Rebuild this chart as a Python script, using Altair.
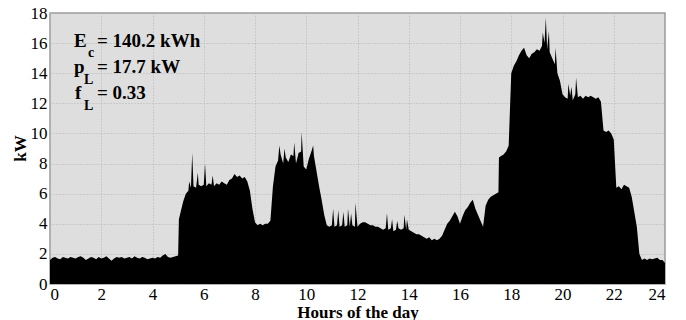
import altair as alt
import pandas as pd

# Load profile sampled every 0.1 h from 0 to 24 h (kW)
base_kw = [
    1.6, 1.75, 1.8, 1.7, 1.65, 1.8, 1.75, 1.7, 1.8, 1.75,
    1.7, 1.8, 1.85, 1.75, 1.6, 1.7, 1.8, 1.75, 1.65, 1.8,
    1.7, 1.75, 1.85, 1.7, 1.55, 1.7, 1.8, 1.75, 1.8, 1.7,
    1.75, 1.8, 1.7, 1.85, 1.75, 1.7, 1.8, 1.75, 1.65, 1.7,
    1.75, 1.7, 1.8, 1.75, 1.9, 2.0, 1.8, 1.75, 1.8, 1.85,
    1.9, 4.8, 5.5, 6.0, 6.2, 6.4, 6.5, 6.4, 6.6, 6.5,
    6.6, 6.5, 6.7, 6.6, 6.5, 6.7, 6.6, 6.8, 6.7, 6.6,
    6.9, 7.0, 7.3, 7.1, 7.2, 7.0, 7.1, 6.8, 6.2, 5.0,
    4.1, 3.9, 4.0, 3.9, 4.0, 4.0, 4.2, 6.5, 7.8, 8.2,
    8.6, 8.0, 8.4, 8.1, 8.6, 8.5, 8.0, 8.7, 8.8, 7.8,
    7.6, 8.3, 8.8, 8.5, 7.5, 6.5, 5.6, 4.6, 3.9, 3.8,
    3.9, 3.8, 3.9, 3.8, 3.9, 3.8, 3.9, 3.8, 3.9, 3.8,
    3.8, 4.0, 4.1, 4.1, 4.0, 3.9, 3.9, 3.8, 3.8, 3.7,
    3.6, 3.7, 3.6, 3.7, 3.5, 3.6, 3.7, 3.6, 3.7, 3.6,
    3.6, 3.5, 3.4, 3.3, 3.3, 3.2, 3.1, 3.0, 3.1, 2.9,
    3.0, 2.9, 3.0, 3.2, 3.6, 4.0, 4.2, 4.5, 4.8, 4.5,
    4.0, 4.5, 4.9, 5.1, 5.4, 5.6, 5.0, 4.6, 4.2, 3.8,
    5.2, 5.6, 5.8, 5.9, 6.0, 6.1, 8.5, 8.6, 8.8, 9.2,
    14.0, 14.5, 14.8, 15.2, 15.5, 15.7, 15.2, 15.0, 15.3, 15.4,
    15.6, 15.5, 15.8, 16.0, 15.6, 15.4, 15.0, 14.6, 14.0, 13.5,
    12.6, 12.4, 12.3, 12.5, 12.2, 12.6, 12.4, 12.5, 12.3, 12.5,
    12.4, 12.5, 12.4, 12.3, 12.4, 12.1, 10.2, 10.1, 10.2, 10.0,
    9.6, 6.4, 6.5, 6.3, 6.6, 6.5, 6.4, 5.8, 4.8, 3.8,
    2.0, 1.6, 1.7, 1.6, 1.7, 1.65, 1.7, 1.75, 1.6, 1.6,
    1.4,
]

# Extra readings between samples: sharp steps and short spikes
extra_hours = [5.03, 5.43, 5.55, 5.77, 6.05, 6.35,
               8.95, 9.15, 9.53, 9.82, 10.27,
               11.05, 11.25, 11.45, 11.63, 11.75, 11.92,
               13.15, 13.35, 13.55, 13.83, 13.93,
               17.52, 19.23, 19.35, 19.47, 19.73, 20.23, 20.35, 20.53]
extra_kw = [4.3, 6.8, 8.7, 7.4, 8.0, 7.2,
            9.2, 9.0, 9.4, 10.1, 9.2,
            5.0, 4.9, 4.8, 5.0, 4.7, 5.4,
            4.7, 4.3, 4.2, 4.6, 4.3,
            8.4, 16.7, 17.7, 16.8, 15.7, 13.3, 13.1, 13.7]

x_ticks = [0, 2, 4, 6, 8, 10, 12, 14, 16, 18, 20, 22, 24]
y_ticks = [0, 2, 4, 6, 8, 10, 12, 14, 16, 18]

base_hours = [round(i * 0.1, 2) for i in range(len(base_kw))]
df = pd.DataFrame({"hour": base_hours + extra_hours, "kw": base_kw + extra_kw})
df = df.drop_duplicates("hour").sort_values("hour", kind="stable").reset_index(drop=True)

SERIF = "Liberation Serif"

area = alt.Chart(df).mark_area(color="black", interpolate="linear").encode(
    x=alt.X("hour:Q",
            scale=alt.Scale(domain=[0, 24], nice=False, zero=False),
            axis=alt.Axis(values=x_ticks, title="Hours of the day", format="d",
                          ticks=False, domain=False,
                          labelFont=SERIF, labelFontSize=17, labelColor="black",
                          labelPadding=2,
                          titleFont=SERIF, titleFontSize=17, titleFontWeight="bold",
                          titleY=33, titleBaseline="alphabetic")),
    y=alt.Y("kw:Q",
            stack=None,
            scale=alt.Scale(domain=[0, 18], nice=False),
            axis=alt.Axis(values=y_ticks, title="kW", format="d",
                          ticks=False, domain=False,
                          labelFont=SERIF, labelFontSize=17, labelColor="black",
                          labelPadding=3,
                          titleFont=SERIF, titleFontSize=17, titleFontWeight="bold",
                          titleX=-25, titleY=135, titleAngle=-90,
                          titleBaseline="alphabetic", titleAlign="center")),
)

def label(text, x, y, size):
    return alt.Chart(pd.DataFrame({"t": [text]})).mark_text(
        font=SERIF, fontWeight="bold", fontSize=size, color="black",
        align="left", baseline="alphabetic"
    ).encode(text="t:N", x=alt.value(x), y=alt.value(y))

annotations = [
    label("E", 24, 34, 19), label("c", 38, 44, 14), label("= 140.2 kWh", 47, 34, 19),
    label("p", 24, 60, 19), label("L", 34, 71, 14), label("= 17.7 kW", 47, 60, 19),
    label("f", 25, 86, 19), label("L", 34, 97, 14), label("= 0.33", 47, 86, 19),
]

chart = alt.layer(area, *annotations).properties(
    width=615, height=271,
    autosize=alt.AutoSizeParams(type="none"),
    padding={"left": 50, "top": 13, "right": 21, "bottom": 36},
    background="white",
).configure_view(
    fill="#dedede", stroke="#9a9a9a", strokeWidth=1.5
).configure_axis(
    labelFont=SERIF, labelFontSize=17, labelColor="black",
    titleFont=SERIF, titleFontSize=17, titleFontWeight="bold", titleColor="black",
    domain=False, ticks=False,
    grid=True, gridColor="#b4b4b4", gridDash=[1, 2], gridWidth=1,
)

chart.save("out.html", embed_options={"renderer": "svg", "actions": False})
